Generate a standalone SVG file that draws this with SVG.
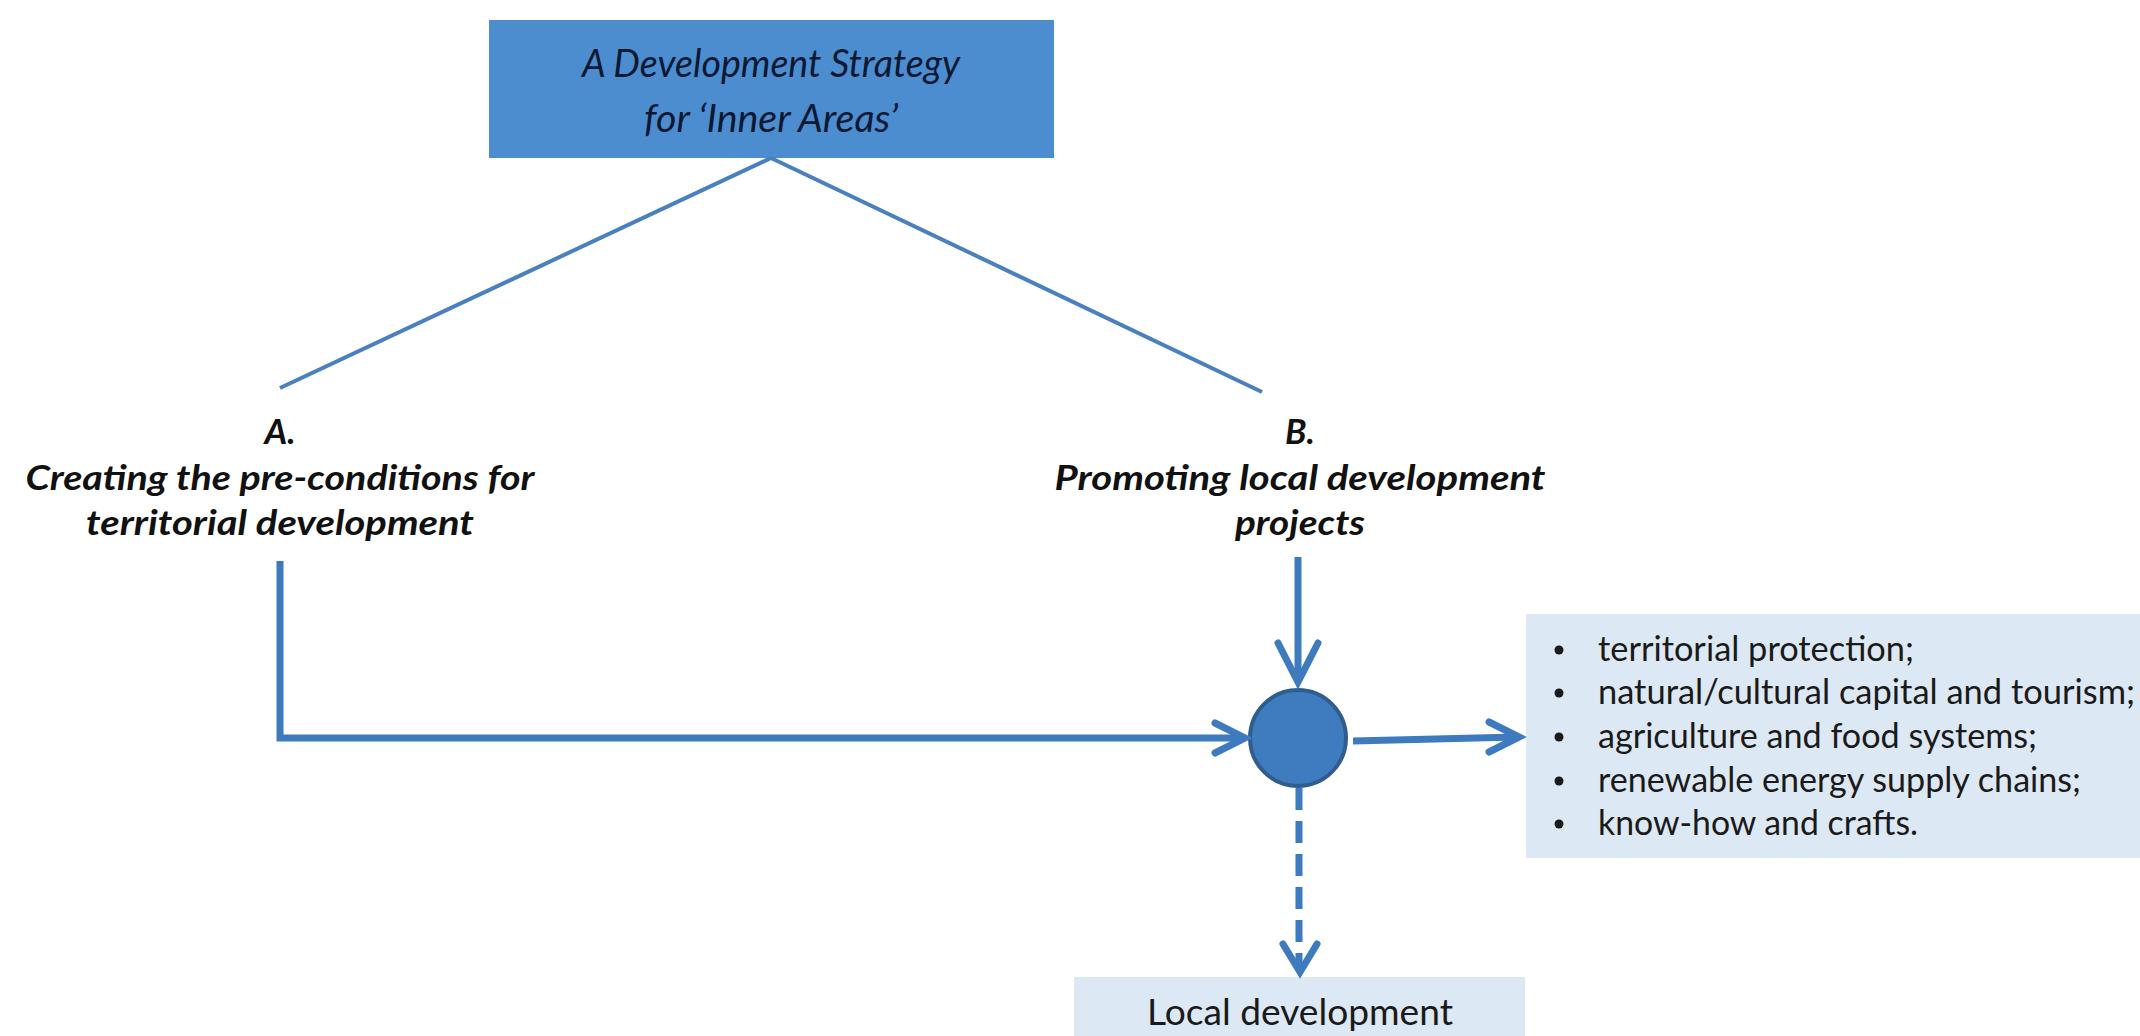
<svg xmlns="http://www.w3.org/2000/svg" width="2140" height="1036" viewBox="0 0 2140 1036">
<style>
.bg{fill:#ffffff}
.title{fill:#4B8DCE}
.light{fill:#DCE8F3}
.t{font-family:Lato,"Open Sans","Liberation Sans",sans-serif}
.tt{font-style:italic;font-size:39px;fill:#0c1934}
.lab{font-style:italic;font-weight:bold;font-size:35px;fill:#111111}
.lst{font-size:34px;fill:#1a1a1a}
.ld{font-size:37px;fill:#1a1a1a}
.thin{fill:none;stroke:#4A80BE;stroke-width:4}
.con{fill:none;stroke:#3E7BBE;stroke-width:7}
.head{fill:none;stroke:#3E7BBE;stroke-width:7;stroke-linecap:round;stroke-linejoin:miter}
</style>
<rect class="bg" x="0" y="0" width="2140" height="1036"/>
<g id="title-node">
<rect class="title" x="489" y="20" width="565" height="138"/>
<text class="t tt" x="771" y="77" text-anchor="middle" textLength="378" lengthAdjust="spacingAndGlyphs">A Development Strategy</text>
<text class="t tt" x="771" y="132" text-anchor="middle" textLength="254" lengthAdjust="spacingAndGlyphs">for ‘Inner Areas’</text>
</g>
<g id="node-a">
<text class="t lab" x="280" y="444" text-anchor="middle">A.</text>
<text class="t lab" x="280" y="490" text-anchor="middle" textLength="509" lengthAdjust="spacingAndGlyphs">Creating the pre-conditions for</text>
<text class="t lab" x="280" y="535" text-anchor="middle" textLength="388" lengthAdjust="spacingAndGlyphs">territorial development</text>
</g>
<g id="node-b">
<text class="t lab" x="1300" y="444" text-anchor="middle">B.</text>
<text class="t lab" x="1300" y="490" text-anchor="middle" textLength="491" lengthAdjust="spacingAndGlyphs">Promoting local development</text>
<text class="t lab" x="1300" y="535" text-anchor="middle" textLength="130" lengthAdjust="spacingAndGlyphs">projects</text>
</g>
<g id="hub-node">
<circle cx="1298" cy="738" r="48" fill="#3E7CBF" stroke="#2F5E8E" stroke-width="4"/>
</g>
<g id="list-node">
<rect class="light" x="1526" y="614" width="614" height="244"/>
<g class="t lst">
<circle cx="1559" cy="650" r="4.5" fill="#1a1a1a"/>
<circle cx="1559" cy="693" r="4.5" fill="#1a1a1a"/>
<circle cx="1559" cy="737" r="4.5" fill="#1a1a1a"/>
<circle cx="1559" cy="781" r="4.5" fill="#1a1a1a"/>
<circle cx="1559" cy="824" r="4.5" fill="#1a1a1a"/>
<text x="1598" y="661" textLength="316" lengthAdjust="spacingAndGlyphs">territorial protection;</text>
<text x="1598" y="704" textLength="537" lengthAdjust="spacingAndGlyphs">natural/cultural capital and tourism;</text>
<text x="1598" y="748" textLength="439" lengthAdjust="spacingAndGlyphs">agriculture and food systems;</text>
<text x="1598" y="792" textLength="483" lengthAdjust="spacingAndGlyphs">renewable energy supply chains;</text>
<text x="1598" y="835" textLength="320" lengthAdjust="spacingAndGlyphs">know-how and crafts.</text>
</g>
</g>
<g id="local-dev-node">
<rect class="light" x="1074" y="977" width="451" height="59"/>
<text class="t ld" x="1300" y="1025" text-anchor="middle" textLength="306" lengthAdjust="spacingAndGlyphs">Local development</text>
</g>
<g id="connectors">
<line class="thin" x1="771" y1="158" x2="280" y2="388"/>
<line class="thin" x1="771" y1="158" x2="1262" y2="392"/>
<path class="con" d="M280,561 V738 H1243"/>
<path class="head" d="M1215,723 L1245,738 L1215,753"/>
<path class="con" d="M1298,557 V680"/>
<path class="head" d="M1278,643 L1298,682 L1318,643"/>
<path class="con" d="M1353,741 L1517,737"/>
<path class="head" d="M1489,722 L1519,737 L1489,752"/>
<path class="con" d="M1299,788 V968" stroke-dasharray="22 11"/>
<path class="head" d="M1283,944 L1300,972 L1317,944"/>
</g>
</svg>
